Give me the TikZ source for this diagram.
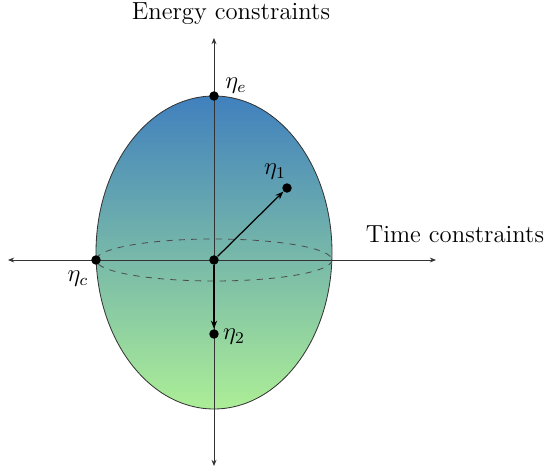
\documentclass[tikz,border=0pt]{standalone}
\usepackage{amsmath}
\usetikzlibrary{arrows.meta}

\definecolor{topblue}{RGB}{64,128,190}
\definecolor{midteal}{RGB}{102,172,172}
\definecolor{botgreen}{RGB}{172,238,150}

\begin{document}
\begin{tikzpicture}[x=0.486pt,y=-0.486pt,
    axis/.style={{Stealth[length=3pt,width=2.4pt]}-{Stealth[length=3pt,width=2.4pt]}, thin, black!80},
    vec/.style={-{Stealth[length=4pt,width=3pt]}, semithick},
    dot/.style={circle, fill=black, inner sep=0pt, minimum size=4.6pt},
    lbl/.style={font=\large}]

    \useasboundingbox (0,0) rectangle (544,468);

    % --- Ellipszoid ---
    \draw[top color=topblue, middle color=midteal, bottom color=botgreen, black!80]
        (214,252.5) ellipse [x radius=118, y radius=156.5];
    \draw[dashed, black!70] (214,260) ellipse [x radius=118, y radius=21];

    % --- Tengelyek ---
    \coordinate (ytop) at (214,38);
    \coordinate (ybot) at (214,466);
    \coordinate (xleft) at (8,260);
    \coordinate (xright) at (436,260);
    \draw[axis] (ybot) -- (ytop);
    \draw[axis] (xleft) -- (xright);

    \node[lbl] (energy) at (231,14) {Energy constraints};
    \node[lbl] (time) at (455,234) {Time constraints};

    % --- Pontok ---
    \node[dot] (origin) at (214,260) {};
    \node[dot] (etae) at (214,96) {};
    \node[dot] (etac) at (96,260) {};
    \node[dot] (eta1) at (287,188) {};
    \node[dot] (eta2) at (214,334) {};

    \draw[vec] (origin) -- (eta1);
    \draw[vec] (origin) -- (eta2);

    \node[lbl] (etaelbl) at (236,86) {$\eta_e$};
    \node[lbl] (eta1lbl) at (275,172) {$\eta_1$};
    \node[lbl] (etaclbl) at (78,279) {$\eta_c$};
    \node[lbl] (eta2lbl) at (234,337) {$\eta_2$};

\end{tikzpicture}
\end{document}
